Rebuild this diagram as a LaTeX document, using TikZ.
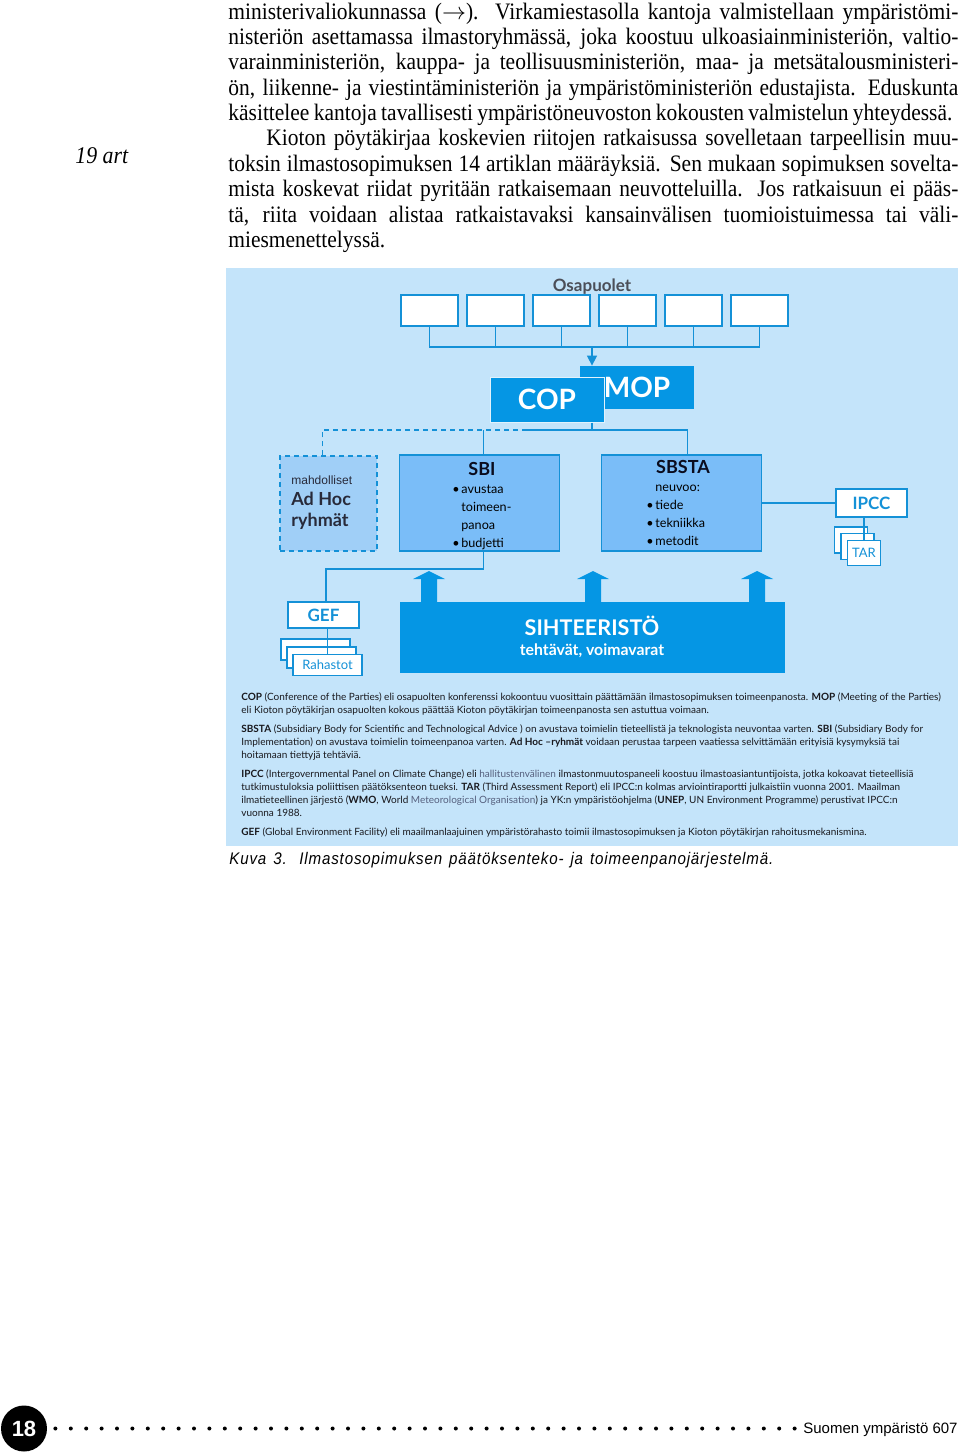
\documentclass[tikz,border=0pt]{standalone}
\usepackage{fontspec}
\setmainfont{Liberation Serif}[FakeStretch=0.91]
\newfontfamily\diafont{Lato}
\newfontfamily\arialfont{Liberation Sans}
\newfontfamily\capfont{Liberation Sans}[FakeStretch=0.9, LetterSpace=5]
\definecolor{bgBlue}{RGB}{196,228,250}
\definecolor{lineBlue}{RGB}{20,145,215}
\definecolor{brightBlue}{RGB}{5,150,228}
\definecolor{midBlue}{RGB}{122,189,248}
\definecolor{adhocBlue}{RGB}{160,207,247}
\definecolor{osaGrey}{RGB}{75,78,88}
\definecolor{titleInk}{RGB}{10,12,30}
\definecolor{adhocInk}{RGB}{40,42,58}
\definecolor{noteInk}{RGB}{25,25,30}
\definecolor{noteSoft}{RGB}{85,95,125}
\usetikzlibrary{arrows.meta,positioning,calc}
\newcommand{\fitline}[2][365pt]{\makebox[#1][s]{#2}}
\newcommand{\bul}{\llap{\makebox[4.5pt][l]{•}}}

\begin{document}
\begin{tikzpicture}[x=0.5pt, y=-0.5pt,
    party/.style={rectangle, draw=lineBlue, fill=white, line width=0.75pt,
                  minimum width=28.5pt, minimum height=15.5pt, inner sep=0pt},
    conn/.style={draw=lineBlue, line width=0.75pt},
    bigbox/.style={rectangle, fill=brightBlue, minimum width=57pt, inner sep=0pt,
                   text=white, font=\diafont\bfseries\fontsize{14}{16}\selectfont},
    subbox/.style={rectangle, draw=lineBlue, fill=midBlue, line width=0.75pt,
                   minimum width=80pt, minimum height=48pt, inner sep=0pt},
    whitebox/.style={rectangle, draw=lineBlue, fill=white, line width=0.75pt,
                     inner sep=0pt, text=lineBlue},
    boxtitle/.style={font=\diafont\bfseries\fontsize{9}{10}\selectfont, text=titleInk,
                     inner sep=0pt, anchor=base},
    bullets/.style={font=\diafont\fontsize{6.3}{9}\selectfont, align=left,
                    inner sep=0pt, anchor=north west, text=black},
    note/.style={font=\diafont\fontsize{5}{6.5}\selectfont, align=left,
                 inner sep=0pt, anchor=north west, text=noteInk},
    bodyline/.style={font=\fontsize{11.8}{12.75}\selectfont, inner sep=0pt, anchor=base west},
    upblock/.style={fill=brightBlue}
  ]
  \useasboundingbox (0,0) rectangle (960,1455);

  % running text
  \node[bodyline] (p1)  at (228,20)    {\fitline{ministerivaliokunnassa ($\rightarrow$). Virkamiestasolla kantoja valmistellaan ympäristömi-}};
  \node[bodyline] (p2)  at (228,44.5)  {\fitline{nisteriön asettamassa ilmastoryhmässä, joka koostuu ulkoasiainministeriön, valtio-}};
  \node[bodyline] (p3)  at (228,70)    {\fitline{varainministeriön, kauppa- ja teollisuusministeriön, maa- ja metsätalousministeri-}};
  \node[bodyline] (p4)  at (228,95.5)  {\fitline{ön, liikenne- ja viestintäministeriön ja ympäristöministeriön edustajista. Eduskunta}};
  \node[bodyline] (p5)  at (228,121)   {\fitline[362pt]{käsittelee kantoja tavallisesti ympäristöneuvoston kokousten valmistelun yhteydessä.}};
  \node[bodyline] (p6)  at (266,146)   {\fitline[346pt]{Kioton pöytäkirjaa koskevien riitojen ratkaisussa sovelletaan tarpeellisin muu-}};
  \node[bodyline] (p7)  at (228,171.5) {\fitline{toksin ilmastosopimuksen 14 artiklan määräyksiä. Sen mukaan sopimuksen sovelta-}};
  \node[bodyline] (p8)  at (228,197)   {\fitline{mista koskevat riidat pyritään ratkaisemaan neuvotteluilla. Jos ratkaisuun ei pääs-}};
  \node[bodyline] (p9)  at (228,222.5) {\fitline{tä, riita voidaan alistaa ratkaistavaksi kansainvälisen tuomioistuimessa tai väli-}};
  \node[bodyline] (p10) at (228,248)   {miesmenettelyssä.};
  \node[bodyline, font=\itshape\fontsize{12}{13}\selectfont] (art) at (75,164) {19 art};

  % diagram panel
  \path[fill=bgBlue] (226,268) rectangle (958,846);
  \node[font=\diafont\bfseries\fontsize{8.5}{10}\selectfont, text=osaGrey,
        inner sep=0pt, anchor=base] (osa) at (592,291) {Osapuolet};

  \node[party] (o1) at (429.5,310.5) {};
  \node[party] (o2) at (495.5,310.5) {};
  \node[party] (o3) at (561.5,310.5) {};
  \node[party] (o4) at (627.5,310.5) {};
  \node[party] (o5) at (693.5,310.5) {};
  \node[party] (o6) at (759.5,310.5) {};

  \node[bigbox, minimum height=21.5pt] (mop) at (637,387.5) {MOP};
  \node[bigbox, minimum height=22.5pt, draw=bgBlue!50!white, line width=0.5pt] (cop) at (547,399.5) {COP};

  \coordinate (bus) at (592,347);
  \draw[conn] (o1.south) |- (bus) -| (o6.south);
  \draw[conn] (o2.south) -- (o2.south |- bus);
  \draw[conn] (o3.south) -- (o3.south |- bus);
  \draw[conn] (o4.south) -- (o4.south |- bus);
  \draw[conn] (o5.south) -- (o5.south |- bus);
  \draw[conn, -{Triangle[length=5pt, width=5pt]}] (bus) -- (bus |- mop.north);

  % subsidiary bodies
  \node[rectangle, draw=lineBlue, dash pattern=on 2.5pt off 2pt, fill=adhocBlue,
        line width=0.75pt, minimum width=48.5pt, minimum height=47.5pt] (adhoc) at (328.5,503.5) {};
  \node[font=\arialfont\fontsize{6}{7}\selectfont, text=adhocInk, inner sep=0pt,
        anchor=base west] (adhoc-m) at (291,484) {mahdolliset};
  \node[font=\diafont\bfseries\fontsize{9}{10.25}\selectfont, text=adhocInk, align=left,
        inner sep=0pt, anchor=north west] (adhoc-t) at (291,491) {\strut Ad Hoc\\ryhmät};

  \node[subbox] (sbi) at (479.5,503) {};
  \node[boxtitle] (sbi-t) at (482,475.5) {SBI};
  \node[bullets] (sbi-l) at (461,480.4) {\strut\bul avustaa\\toimeen-\\panoa\\\bul budjetti};

  \node[subbox] (sbsta) at (681.5,503) {};
  \node[boxtitle] (sbsta-t) at (683,473.5) {SBSTA};
  \node[bullets] (sbsta-l) at (655,478.4) {\strut neuvoo:\\\bul tiede\\\bul tekniikka\\\bul metodit};

  \coordinate (split) at (592,430);
  \coordinate (dashend) at (522,430);
  \draw[conn] (split |- cop.south) -- (split);
  \draw[conn] ([xshift=2pt]sbi.north) -- ([xshift=2pt]sbi.north |- split);
  \draw[conn] (dashend) -| ([xshift=3pt]sbsta.north);
  \draw[conn, dash pattern=on 2.5pt off 2pt] ([xshift=-3pt]adhoc.north) |- (dashend);

  % IPCC and reports
  \node[whitebox, minimum width=35.5pt, minimum height=14pt,
        font=\diafont\bfseries\fontsize{8.5}{10}\selectfont] (ipcc) at (871.5,503) {IPCC};
  \draw[conn] (sbsta.east) -- (sbsta.east -| ipcc.west);
  \node[whitebox, minimum width=16.5pt, minimum height=13pt] (far) at (851,540) {};
  \node[whitebox, minimum width=16.5pt, minimum height=13pt] (sar) at (857.5,546.5) {};
  \node[whitebox, minimum width=16.5pt, minimum height=12.5pt,
        font=\diafont\fontsize{6.5}{8}\selectfont] (tar) at (864,553) {TAR};
  \draw[conn] (tar.north) -- (tar.north |- ipcc.south);

  % GEF and funds
  \node[whitebox, minimum width=35.5pt, minimum height=13pt,
        font=\diafont\bfseries\fontsize{8.5}{10}\selectfont] (gef) at (323.5,615) {GEF};
  \draw[conn] ([xshift=2pt]sbi.south) -- ++(0,17) -| ([xshift=1.25pt]gef.north);
  \node[whitebox, minimum width=34.5pt, minimum height=10.5pt] (rah1) at (315.5,649.5) {};
  \node[whitebox, minimum width=34.5pt, minimum height=10.5pt] (rah2) at (321.5,657.5) {};
  \node[whitebox, minimum width=34.5pt, minimum height=10.5pt,
        font=\diafont\fontsize{6.5}{8}\selectfont] (rah) at (327.5,665) {Rahastot};
  \draw[conn] (rah.north) -- (rah.north |- gef.south);

  % secretariat
  \node[rectangle, fill=brightBlue, minimum width=192.5pt, minimum height=35.5pt,
        inner sep=0pt] (sih) at (592.5,637.5) {};
  \node[font=\diafont\bfseries\fontsize{10.8}{12}\selectfont, text=white, inner sep=0pt,
        anchor=base] (sih-t) at (592,635) {SIHTEERISTÖ};
  \node[font=\diafont\bfseries\fontsize{7.9}{9}\selectfont, text=white, inner sep=0pt,
        anchor=base] (sih-s) at (592,655) {tehtävät, voimavarat};
  \coordinate (up1) at (429,602);
  \coordinate (up2) at (593,602);
  \coordinate (up3) at (757,602);
  \fill[upblock] (up1) -- ++(-8,0) -- ++(0,-23) -- ++(-8,0) -- ++(16,-8) -- ++(16,8) -- ++(-8,0) -- ++(0,23) -- cycle;
  \fill[upblock] (up2) -- ++(-8,0) -- ++(0,-23) -- ++(-8,0) -- ++(16,-8) -- ++(16,8) -- ++(-8,0) -- ++(0,23) -- cycle;
  \fill[upblock] (up3) -- ++(-8,0) -- ++(0,-23) -- ++(-8,0) -- ++(16,-8) -- ++(16,8) -- ++(-8,0) -- ++(0,23) -- cycle;

  % notes
  \node[note] (n-cop) at (241,690.9) {\strut\textbf{COP} (Conference of the Parties) eli osapuolten konferenssi kokoontuu vuosittain päättämään ilmastosopimuksen toimeenpanosta. \textbf{MOP} (Meeting of the Parties)\\
    eli Kioton pöytäkirjan osapuolten kokous päättää Kioton pöytäkirjan toimeenpanosta sen astuttua voimaan.};
  \node[note] (n-sb) at (241,722.9) {\strut\textbf{SBSTA} (Subsidiary Body for Scientific and Technological Advice ) on avustava toimielin tieteellistä ja teknologista neuvontaa varten. \textbf{SBI} (Subsidiary Body for\\
    Implementation) on avustava toimielin toimeenpanoa varten. \textbf{Ad Hoc –ryhmät} voidaan perustaa tarpeen vaatiessa selvittämään erityisiä kysymyksiä tai\\
    hoitamaan tiettyjä tehtäviä.};
  \node[note] (n-ipcc) at (241,767.9) {\strut\textbf{IPCC} (Intergovernmental Panel on Climate Change) eli \textcolor{noteSoft}{hallitustenvälinen} ilmastonmuutospaneeli koostuu ilmastoasiantuntijoista, jotka kokoavat tieteellisiä\\
    tutkimustuloksia poliittisen päätöksenteon tueksi. \textbf{TAR} (Third Assessment Report) eli IPCC:n kolmas arviointiraportti julkaistiin vuonna 2001. Maailman\\
    ilmatieteellinen järjestö (\textbf{WMO}, World \textcolor{noteSoft}{Meteorological Organisation}) ja YK:n ympäristöohjelma (\textbf{UNEP}, UN Environment Programme) perustivat IPCC:n\\
    vuonna 1988.};
  \node[note] (n-gef) at (241,825.9) {\strut\textbf{GEF} (Global Environment Facility) eli maailmanlaajuinen ympäristörahasto toimii ilmastosopimuksen ja Kioton pöytäkirjan rahoitusmekanismina.};

  \node[font=\capfont\itshape\fontsize{8.4}{10}\selectfont, inner sep=0pt, anchor=base west] (caption) at (229,864)
    {\fitline[272pt]{Kuva 3. Ilmastosopimuksen päätöksenteko- ja toimeenpanojärjestelmä.}};

  % footer
  \node[circle, fill=black, minimum size=23pt, inner sep=0pt, text=white,
        font=\arialfont\bfseries\fontsize{11}{12}\selectfont] (pgnum) at (24,1428.5) {18};
  \node[font=\arialfont\fontsize{7.5}{9}\selectfont, inner sep=0pt, anchor=base east] (foot) at (958,1433.5) {Suomen ympäristö 607};
  \coordinate (dotstart) at ([xshift=4pt]pgnum.east);
  \coordinate (dotend) at ([xshift=-3.5pt]foot.west);
  \draw[line width=2pt, line cap=round, dash pattern=on 0pt off 7.7pt] (dotstart) -- (dotend |- pgnum.east);
\end{tikzpicture}
\end{document}
